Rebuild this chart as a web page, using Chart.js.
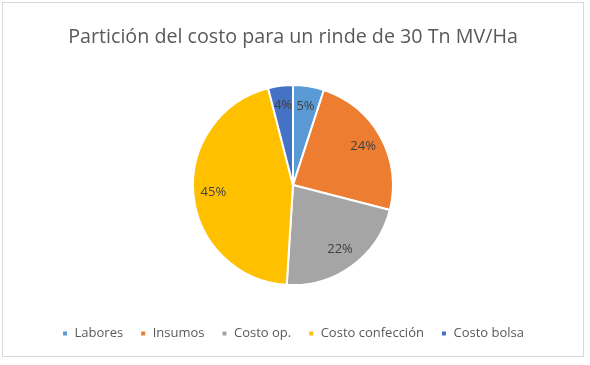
<!DOCTYPE html>
<html>
<head>
<meta charset="utf-8">
<script src="https://cdn.jsdelivr.net/npm/chart.js@4.4.1/dist/chart.umd.min.js"></script>
<style>
  html, body { margin: 0; padding: 0; background: #fff; }
  #wrap { position: relative; width: 590px; height: 365px; }
  #marco { position: absolute; left: 2px; top: 2px; width: 580px; height: 353px; border: 1px solid #d9d9d9; }
  #grafico { position: absolute; left: 0; top: 0; }
</style>
</head>
<body>
<div id="wrap">
  <div id="marco"></div>
  <canvas id="grafico" width="590" height="365"></canvas>
</div>
<script>
// Datos del gráfico
const categorias = ["Labores", "Insumos", "Costo op.", "Costo confección", "Costo bolsa"];
const porcentajes = [5, 24, 22, 45, 4];
const colores = ["#5B9BD5", "#ED7D31", "#A5A5A5", "#FFC000", "#4472C4"];
const titulo = "Partición del costo para un rinde de 30 Tn MV/Ha";

// Plugin para escribir los porcentajes dentro de cada porción
const etiquetasPorcentaje = {
  id: "etiquetasPorcentaje",
  afterDatasetsDraw(chart) {
    const ctx = chart.ctx;
    const meta = chart.getDatasetMeta(0);
    ctx.save();
    ctx.font = "13px 'Open Sans'";
    ctx.fillStyle = "#404040";
    ctx.textAlign = "center";
    ctx.textBaseline = "middle";
    meta.data.forEach((arc, i) => {
      const p = arc.getProps(["x", "y", "startAngle", "endAngle", "outerRadius"], true);
      const medio = (p.startAngle + p.endAngle) / 2;
      const r = p.outerRadius * 0.8;
      ctx.fillText(porcentajes[i] + "%", p.x + Math.cos(medio) * r, p.y + Math.sin(medio) * r);
    });
    ctx.restore();
  }
};

const ctx = document.getElementById("grafico").getContext("2d");
new Chart(ctx, {
  type: "pie",
  data: {
    labels: categorias,
    datasets: [{
      data: porcentajes,
      backgroundColor: colores,
      borderColor: "#ffffff",
      borderWidth: 2,
      radius: 100
    }]
  },
  options: {
    responsive: false,
    animation: false,
    layout: { padding: { left: 0, right: 4, top: 0, bottom: 15 } },
    plugins: {
      title: {
        display: true,
        text: titulo,
        color: "#595959",
        font: { family: "'Open Sans'", size: 19.7, weight: "normal" },
        padding: { top: 26, bottom: 10.5 }
      },
      legend: {
        display: true,
        position: "bottom",
        labels: {
          color: "#595959",
          font: { family: "'Open Sans'", size: 13 },
          boxWidth: 6,
          boxHeight: 6,
          padding: 17
        }
      },
      tooltip: { enabled: false }
    }
  },
  plugins: [etiquetasPorcentaje]
});
</script>
</body>
</html>
